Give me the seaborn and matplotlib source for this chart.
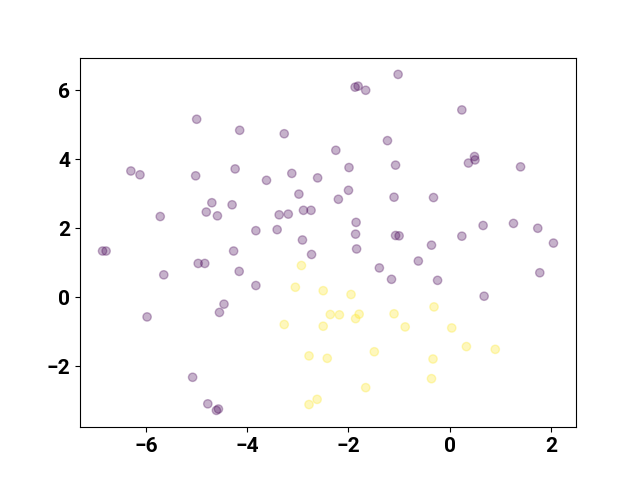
import numpy as np
import pandas as pd
import matplotlib
matplotlib.use("Agg")
import matplotlib.pyplot as plt
import seaborn as sns

# Class 0 points (purple)
x_class0 = [-5.00, -4.15, -3.27, -6.30, -6.12, -5.02, -4.24, -3.62, -3.12, -2.61,
            -2.98, -4.70, -4.30, -4.81, -4.59, -5.72, -3.37, -3.19, -2.89, -2.74,
            -3.83, -3.41, -2.91, -6.86, -6.79, -4.27, -1.02, -1.87, -1.81, -1.66,
            0.24, -1.23, -2.25, -1.99, -1.07, 0.49, 0.50, 0.37, 1.40, -2.00,
            -2.20, -1.10, -0.32, -1.85, -1.86, -1.07, -1.00, 0.24, 0.66, 1.26,
            1.74, 2.05, -0.36, -1.84, -2.73, -4.97, -4.84, -5.65, -4.16, -3.83,
            -4.46, -4.55, -5.98, -5.08, -4.78, -4.57, -4.61, -1.39, -0.62, -1.15,
            -0.24, 1.78, 0.68]
y_class0 = [5.16, 4.84, 4.74, 3.66, 3.55, 3.52, 3.72, 3.39, 3.59, 3.46,
            2.99, 2.74, 2.68, 2.47, 2.36, 2.34, 2.39, 2.41, 2.52, 2.52,
            1.93, 1.96, 1.66, 1.34, 1.34, 1.34, 6.46, 6.09, 6.12, 6.00,
            5.43, 4.54, 4.26, 3.76, 3.83, 4.08, 3.98, 3.89, 3.78, 3.10,
            2.84, 2.90, 2.89, 2.17, 1.83, 1.79, 1.78, 1.77, 2.08, 2.14,
            2.00, 1.57, 1.51, 1.40, 1.24, 0.98, 0.98, 0.65, 0.75, 0.34,
            -0.20, -0.44, -0.57, -2.32, -3.09, -3.24, -3.28, 0.85, 1.05, 0.52,
            0.49, 0.71, 0.03]

# Class 1 points (yellow)
x_class1 = [-2.93, -3.05, -2.50, -1.95, -2.36, -2.18, -1.86, -1.79, -1.10, -3.27,
            -2.50, -0.88, -0.31, 0.04, 0.33, 0.90, -1.49, -2.78, -2.42, -0.33,
            -0.36, -1.66, -2.62, -2.78]
y_class1 = [0.92, 0.29, 0.19, 0.08, -0.50, -0.51, -0.62, -0.49, -0.48, -0.79,
            -0.84, -0.86, -0.28, -0.89, -1.43, -1.51, -1.58, -1.70, -1.77, -1.79,
            -2.36, -2.62, -2.96, -3.11]

df = pd.DataFrame({
    "x": x_class0 + x_class1,
    "y": y_class0 + y_class1,
    "label": [0] * len(x_class0) + [1] * len(x_class1),
})

plt.rcParams['font.family'] = ['Roboto', 'DejaVu Sans']

# endpoints of viridis, like a plain c=labels scatter
viridis = plt.get_cmap("viridis")
palette = {0: viridis(0.0), 1: viridis(1.0)}

fig, ax = plt.subplots(figsize=(6.4, 4.8), dpi=100)
sns.scatterplot(data=df, x="x", y="y", hue="label", palette=palette,
                alpha=0.3, s=36, edgecolor="face", linewidth=1, legend=False, ax=ax)
ax.set_xlabel("")
ax.set_ylabel("")
ax.set_xticks([-6, -4, -2, 0, 2])
ax.set_yticks([-2, 0, 2, 4, 6])
for lbl in ax.get_xticklabels() + ax.get_yticklabels():
    lbl.set_fontsize(15)
    lbl.set_fontweight("bold")

plt.savefig("out.png")
